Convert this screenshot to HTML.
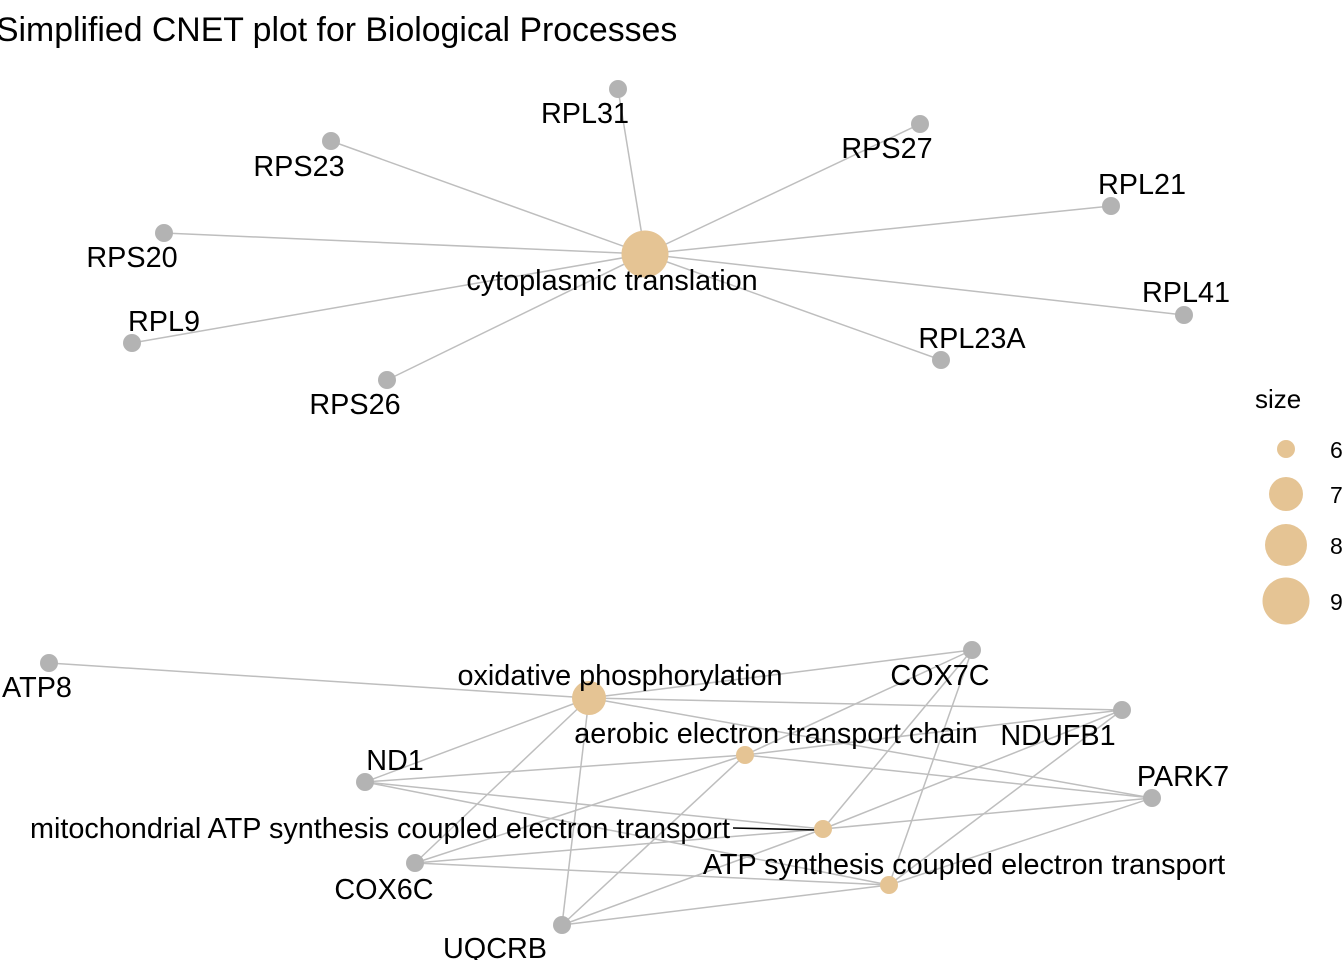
<!DOCTYPE html>
<html><head><meta charset="utf-8"><style>
html,body{margin:0;padding:0;background:#fff;}
svg{display:block;font-family:"Liberation Sans",Arial,sans-serif;}
</style></head><body>
<svg id="chart" width="1344" height="960">
<text x="-4" y="41" font-size="33.8">Simplified CNET plot for Biological Processes</text>
<g id="edges"></g>
<line x1="733" y1="828" x2="818" y2="830" stroke="#000" stroke-width="1.6"/>
<g id="nodes"></g>
<g id="labels" font-size="28.8" fill="#000"></g>
<g id="legend">
<text x="1255" y="408" font-size="26">size</text>
</g>
</svg>
<script>
const termNames=["cytoplasmic translation","oxidative phosphorylation","aerobic electron transport chain","mitochondrial ATP synthesis coupled electron transport","ATP synthesis coupled electron transport"];
const termSizes=[9,7,6,6,6];
const termPos=[[645,254],[589,698],[745,755],[823,829],[889,885]];
const termLabelPos=[[612,290,"middle"],[620,685,"middle"],[776,743,"middle"],[730,838,"end"],[964,874,"middle"]];
const geneNames=["RPL31","RPS23","RPS27","RPL21","RPS20","RPL41","RPL9","RPL23A","RPS26","ATP8","COX7C","NDUFB1","ND1","PARK7","COX6C","UQCRB"];
const genePos=[[618,89],[331,141],[920,124],[1111,206],[164,233],[1184,315],[132,343],[941,360],[387,380],[49,663],[972,650],[1122,710],[365,782],[1152,798],[415,863],[562,925]];
const geneLabelPos=[[585,123],[299,176],[887,158],[1142,194],[132,267],[1186,302],[164,331],[972,348],[355,414],[37,697],[940,685],[1058,745],[395,770],[1183,786],[384,899],[495,958]];
const geneTerms=[[0],[0],[0],[0],[0],[0],[0],[0],[0],[1],[1,2,3,4],[1,2,3,4],[1,2,3,4],[1,2,3,4],[1,2,3,4],[1,2,3,4]];
const legendSizes=[6,7,8,9];
const NS="http://www.w3.org/2000/svg";
function rad(s){return {6:9,7:17,8:21,9:23.5}[s]||9+(s-6)*5;}
function mk(t,a,p){const e=document.createElementNS(NS,t);for(const k in a)e.setAttribute(k,a[k]);p.appendChild(e);return e;}
const E=document.getElementById('edges'),N=document.getElementById('nodes'),L=document.getElementById('labels'),G=document.getElementById('legend');
geneTerms.forEach((ts,g)=>ts.forEach(t=>{
 const l=mk('line',{x1:genePos[g][0],y1:genePos[g][1],x2:termPos[t][0],y2:termPos[t][1],stroke:'#BEBEBE','stroke-width':1.5},E);
 
 
}));
genePos.forEach((p,g)=>{
 const c=mk('circle',{cx:p[0],cy:p[1],r:9,fill:'#B3B3B3'},N);
 
 
 const t=mk('text',{x:geneLabelPos[g][0],y:geneLabelPos[g][1],'text-anchor':'middle'},L);
 t.textContent=geneNames[g];
 
 
});
termPos.forEach((p,i)=>{
 const c=mk('circle',{cx:p[0],cy:p[1],r:rad(termSizes[i]),fill:'#E5C494'},N);
 
 
 const t=mk('text',{x:termLabelPos[i][0],y:termLabelPos[i][1],'text-anchor':termLabelPos[i][2]},L);
 t.textContent=termNames[i];
 
 
});
const ly=[449,494,545,601];
legendSizes.forEach((s,i)=>{
 const c=mk('circle',{cx:1286,cy:ly[i],r:rad(s),fill:'#E5C494'},G);
 
 
 const t=mk('text',{x:1330,y:ly[i]+9,'font-size':23},G);
 t.textContent=s;
 
 
});
</script>
</body></html>
